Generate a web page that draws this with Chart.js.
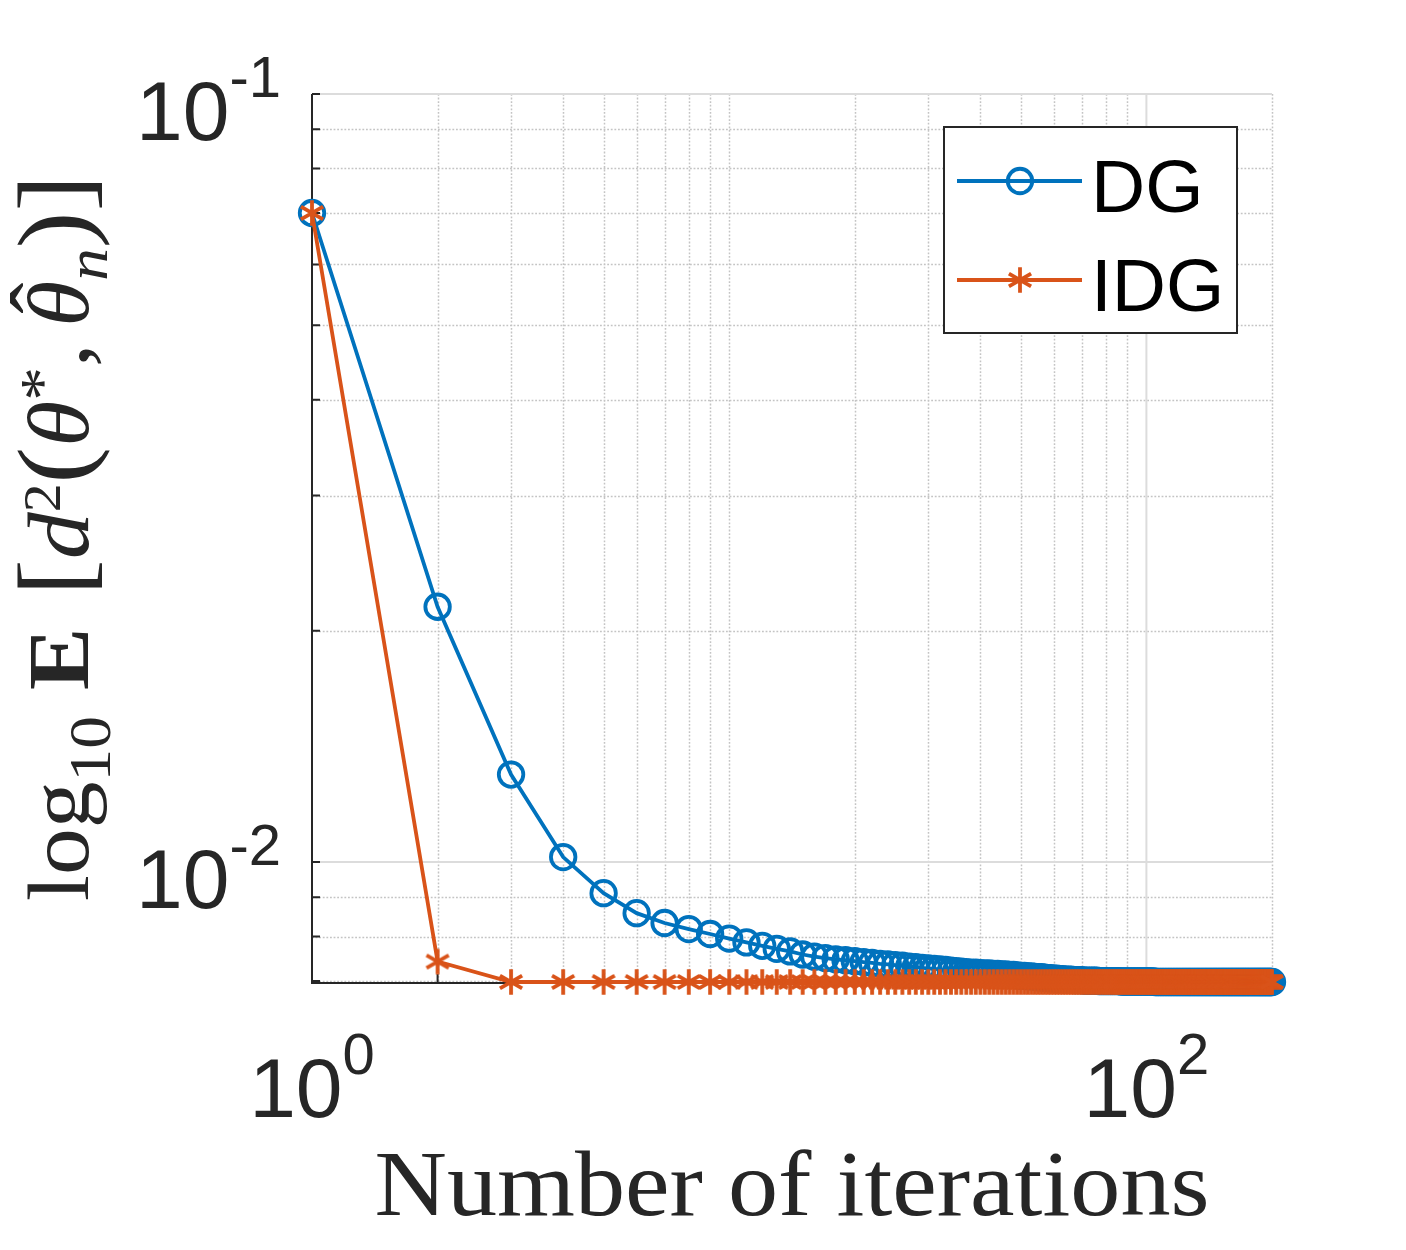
<!DOCTYPE html>
<html>
<head>
<meta charset="utf-8">
<script src="https://cdn.jsdelivr.net/npm/chart.js@4/dist/chart.umd.min.js"></script>
<style>
html,body{margin:0;padding:0;background:#ffffff;}
canvas{display:block;}
</style>
</head>
<body>
<canvas id="c" width="1406" height="1250"></canvas>
<script>
// ---------------- data ----------------
const iterations = [
  1,2,3,4,5,6,7,8,9,10,
  11,12,13,14,15,16,17,18,19,20,
  21,22,23,24,25,26,27,28,29,30,
  31,32,33,34,35,36,37,38,39,40,
  41,42,43,44,45,46,47,48,49,50,
  51,52,53,54,55,56,57,58,59,60,
  61,62,63,64,65,66,67,68,69,70,
  71,72,73,74,75,76,77,78,79,80,
  81,82,83,84,85,86,87,88,89,90,
  91,92,93,94,95,96,97,98,99,100,
  101,102,103,104,105,106,107,108,109,110,
  111,112,113,114,115,116,117,118,119,120,
  121,122,123,124,125,126,127,128,129,130,
  131,132,133,134,135,136,137,138,139,140,
  141,142,143,144,145,146,147,148,149,150,
  151,152,153,154,155,156,157,158,159,160,
  161,162,163,164,165,166,167,168,169,170,
  171,172,173,174,175,176,177,178,179,180,
  181,182,183,184,185,186,187,188,189,190,
  191,192,193,194,195,196,197,198,199,200
];

const dgValues = [
  0.0700,0.0215,0.0130,0.01015,0.00911,0.00858,0.00833,0.00818,0.00806,0.00795,
  0.00786,0.00778,0.00771,0.00765,0.00758,0.00753,0.00750,0.00747,0.00745,0.00743,
  0.00741,0.00739,0.00737,0.00736,0.00734,0.00733,0.00731,0.00730,0.00728,0.00727,
  0.00726,0.00725,0.00724,0.00722,0.00721,0.00720,0.00719,0.00718,0.00718,0.00717,
  0.00716,0.00716,0.00715,0.00715,0.00714,0.00714,0.00713,0.00713,0.00712,0.00711,
  0.00711,0.00710,0.00710,0.00709,0.00708,0.00708,0.00707,0.00706,0.00706,0.00705,
  0.00705,0.00704,0.00704,0.00703,0.00703,0.00703,0.00702,0.00702,0.00702,0.00702,
  0.00701,0.00701,0.00701,0.00701,0.00701,0.00701,0.00700,0.00700,0.00700,0.00700,
  0.00700,0.00700,0.00700,0.00700,0.00700,0.00700,0.00699,0.00699,0.00699,0.00699,
  0.00699,0.00699,0.00699,0.00699,0.00699,0.00699,0.00699,0.00699,0.00699,0.00699,
  0.00699,0.00699,0.00699,0.00699,0.00698,0.00698,0.00698,0.00698,0.00698,0.00698,
  0.00698,0.00698,0.00698,0.00698,0.00698,0.00698,0.00698,0.00698,0.00698,0.00698,
  0.00698,0.00698,0.00698,0.00698,0.00698,0.00698,0.00698,0.00698,0.00698,0.00698,
  0.00698,0.00698,0.00698,0.00698,0.00698,0.00698,0.00698,0.00698,0.00698,0.00698,
  0.00698,0.00698,0.00698,0.00698,0.00698,0.00698,0.00698,0.00698,0.00698,0.00698,
  0.00698,0.00698,0.00698,0.00698,0.00698,0.00698,0.00698,0.00698,0.00698,0.00698,
  0.00698,0.00698,0.00698,0.00698,0.00698,0.00698,0.00698,0.00698,0.00698,0.00698,
  0.00698,0.00698,0.00698,0.00698,0.00698,0.00698,0.00698,0.00698,0.00698,0.00698,
  0.00698,0.00698,0.00698,0.00698,0.00698,0.00698,0.00698,0.00698,0.00698,0.00698,
  0.00698,0.00698,0.00698,0.00698,0.00698,0.00698,0.00698,0.00698,0.00698,0.00698
];

const idgValues = [
  0.0700,0.00742,0.00698,0.00698,0.00698,0.00698,0.00698,0.00698,0.00698,0.00698,
  0.00698,0.00698,0.00698,0.00698,0.00698,0.00698,0.00698,0.00698,0.00698,0.00698,
  0.00698,0.00698,0.00698,0.00698,0.00698,0.00698,0.00698,0.00698,0.00698,0.00698,
  0.00698,0.00698,0.00698,0.00698,0.00698,0.00698,0.00698,0.00698,0.00698,0.00698,
  0.00698,0.00698,0.00698,0.00698,0.00698,0.00698,0.00698,0.00698,0.00698,0.00698,
  0.00698,0.00698,0.00698,0.00698,0.00698,0.00698,0.00698,0.00698,0.00698,0.00698,
  0.00698,0.00698,0.00698,0.00698,0.00698,0.00698,0.00698,0.00698,0.00698,0.00698,
  0.00698,0.00698,0.00698,0.00698,0.00698,0.00698,0.00698,0.00698,0.00698,0.00698,
  0.00698,0.00698,0.00698,0.00698,0.00698,0.00698,0.00698,0.00698,0.00698,0.00698,
  0.00698,0.00698,0.00698,0.00698,0.00698,0.00698,0.00698,0.00698,0.00698,0.00698,
  0.00698,0.00698,0.00698,0.00698,0.00698,0.00698,0.00698,0.00698,0.00698,0.00698,
  0.00698,0.00698,0.00698,0.00698,0.00698,0.00698,0.00698,0.00698,0.00698,0.00698,
  0.00698,0.00698,0.00698,0.00698,0.00698,0.00698,0.00698,0.00698,0.00698,0.00698,
  0.00698,0.00698,0.00698,0.00698,0.00698,0.00698,0.00698,0.00698,0.00698,0.00698,
  0.00698,0.00698,0.00698,0.00698,0.00698,0.00698,0.00698,0.00698,0.00698,0.00698,
  0.00698,0.00698,0.00698,0.00698,0.00698,0.00698,0.00698,0.00698,0.00698,0.00698,
  0.00698,0.00698,0.00698,0.00698,0.00698,0.00698,0.00698,0.00698,0.00698,0.00698,
  0.00698,0.00698,0.00698,0.00698,0.00698,0.00698,0.00698,0.00698,0.00698,0.00698,
  0.00698,0.00698,0.00698,0.00698,0.00698,0.00698,0.00698,0.00698,0.00698,0.00698,
  0.00698,0.00698,0.00698,0.00698,0.00698,0.00698,0.00698,0.00698,0.00698,0.00698
];

const seriesNames = ['DG', 'IDG'];

const xMin = 1, xMax = 200;
const yMin = 0.00698, yMax = 0.1;

const xMajorTicks = [1, 100];
const xTickBases = ['10', '10'];
const xTickExps = ['0', '2'];
const xMinorTicks = [2,3,4,5,6,7,8,9,10,20,30,40,50,60,70,80,90,200];

const yMajorTicks = [0.01, 0.1];
const yTickBases = ['10', '10'];
const yTickExps = ['-2', '-1'];
const yMinorTicks = [0.007,0.008,0.009,0.02,0.03,0.04,0.05,0.06,0.07,0.08,0.09];

const xTitle = 'Number of iterations';
// y title pieces: log_{10} E [ d^2 ( θ^* , \hat θ_n ) ]
const yTitleParts = [
  {t:'log', f:'r'}, {t:'10', f:'sub'}, {t:' ', f:'sp', w:0.28},
  {t:'E', f:'b'}, {t:' ', f:'sp', w:0.34},
  {t:'[', f:'big'}, {t:'d', f:'i'}, {t:'2', f:'sup'},
  {t:'(', f:'big'}, {t:'θ', f:'i'}, {t:'*', f:'supst'},
  {t:',', f:'r'}, {t:' ', f:'sp', w:0.18},
  {t:'θ', f:'i', hat:true}, {t:'n', f:'subi'},
  {t:')', f:'big'}, {t:']', f:'big'}
];

// ---------------- style ----------------
const DG_COLOR = '#0072BD';
const IDG_COLOR = '#D95319';
const AXIS_COLOR = '#262626';
const LINE_W = 3.8;

function makeAsterisk(color) {
  const s = 36, c = s / 2, r = 12.8;
  const cv = document.createElement('canvas');
  cv.width = s; cv.height = s;
  const g = cv.getContext('2d');
  g.strokeStyle = color; g.lineWidth = LINE_W;
  g.beginPath();
  for (let k = 0; k < 3; k++) {
    const a = Math.PI / 2 + k * Math.PI / 3;
    g.moveTo(c + r * Math.cos(a), c + r * Math.sin(a));
    g.lineTo(c - r * Math.cos(a), c - r * Math.sin(a));
  }
  g.stroke();
  return cv;
}
const asterisk = makeAsterisk(IDG_COLOR);

function supLabel(ctx, base, exp, x, baseline, align) {
  const bf = '84px "Liberation Sans", Arial, sans-serif';
  const ef = '58px "Liberation Sans", Arial, sans-serif';
  ctx.font = bf; const wb = ctx.measureText(base).width;
  ctx.font = ef; const we = ctx.measureText(exp).width;
  const total = wb + we;
  const sx = align === 'right' ? x - total : x - total / 2;
  ctx.textAlign = 'left'; ctx.textBaseline = 'alphabetic';
  ctx.font = bf; ctx.fillText(base, sx, baseline);
  ctx.font = ef; ctx.fillText(exp, sx + wb, baseline - 43);
}

const decorPlugin = {
  id: 'decor',
  beforeDatasetsDraw(chart) {
    const ctx = chart.ctx;
    const xs = chart.scales.x, ys = chart.scales.y;
    const a = chart.chartArea;
    ctx.save();
    // minor grid (dotted)
    ctx.strokeStyle = '#c4c4c4'; ctx.lineWidth = 1.5; ctx.setLineDash([1.8, 1.8]);
    ctx.beginPath();
    xMinorTicks.forEach(v => { const px = Math.round(xs.getPixelForValue(v)) + 0.5; ctx.moveTo(px, a.top); ctx.lineTo(px, a.bottom); });
    yMinorTicks.forEach(v => { const py = Math.round(ys.getPixelForValue(v)) + 0.5; ctx.moveTo(a.left, py); ctx.lineTo(a.right, py); });
    ctx.stroke();
    // major grid (solid)
    ctx.setLineDash([]);
    ctx.strokeStyle = '#dcdcdc'; ctx.lineWidth = 2;
    ctx.beginPath();
    xMajorTicks.forEach(v => { const px = xs.getPixelForValue(v); ctx.moveTo(px, a.top); ctx.lineTo(px, a.bottom); });
    yMajorTicks.forEach(v => { const py = ys.getPixelForValue(v); ctx.moveTo(a.left, py); ctx.lineTo(a.right, py); });
    ctx.stroke();
    // axes lines
    ctx.strokeStyle = AXIS_COLOR; ctx.lineWidth = 2;
    ctx.beginPath();
    ctx.moveTo(a.left, a.top); ctx.lineTo(a.left, a.bottom + 1); ctx.lineTo(a.right, a.bottom + 1);
    ctx.stroke();
    // ticks (inward)
    const tl = 8;
    ctx.beginPath();
    xMajorTicks.concat(xMinorTicks).forEach(v => { const px = xs.getPixelForValue(v); ctx.moveTo(px, a.bottom); ctx.lineTo(px, a.bottom - tl); });
    yMajorTicks.concat(yMinorTicks).forEach(v => { const py = ys.getPixelForValue(v); ctx.moveTo(a.left, py); ctx.lineTo(a.left + tl, py); });
    ctx.stroke();
    // tick labels
    ctx.fillStyle = AXIS_COLOR;
    xMajorTicks.forEach((v, i) => supLabel(ctx, xTickBases[i], xTickExps[i], xs.getPixelForValue(v), a.bottom + 135, 'center'));
    yMajorTicks.forEach((v, i) => supLabel(ctx, yTickBases[i], yTickExps[i], a.left - 31, ys.getPixelForValue(v) + 46, 'right'));
    // x title
    ctx.save();
    ctx.font = '94px "Liberation Serif", "Times New Roman", serif';
    const wx = ctx.measureText(xTitle).width;
    const cx = (a.left + a.right) / 2;
    ctx.translate(cx, a.bottom + 233);
    ctx.scale(835 / wx, 1);
    ctx.textAlign = 'center'; ctx.textBaseline = 'alphabetic';
    ctx.fillText(xTitle, 0, 0);
    ctx.restore();
    // y title
    drawYTitle(ctx, 88, (a.top + a.bottom) / 2, 726);
    ctx.restore();
  },
  afterDatasetsDraw(chart) {
    const ctx = chart.ctx;
    ctx.save();
    // legend box
    ctx.fillStyle = '#ffffff';
    ctx.fillRect(944, 127, 293, 206);
    ctx.strokeStyle = AXIS_COLOR; ctx.lineWidth = 2;
    ctx.strokeRect(944, 127, 293, 206);
    const rows = [181, 280];
    const ds = chart.data.datasets;
    [0, 1].forEach(k => {
      const d = ds.find(s => s.label === seriesNames[k]);
      const y = rows[k];
      ctx.strokeStyle = d.borderColor; ctx.lineWidth = LINE_W;
      ctx.beginPath(); ctx.moveTo(957, y); ctx.lineTo(1082, y); ctx.stroke();
      if (d.pointStyle === 'circle') {
        ctx.beginPath(); ctx.arc(1020, y, 12.25, 0, Math.PI * 2); ctx.stroke();
      } else {
        ctx.drawImage(d.pointStyle, 1020 - d.pointStyle.width / 2, y - d.pointStyle.height / 2);
      }
      ctx.fillStyle = '#000000';
      ctx.font = '75px "Liberation Sans", Arial, sans-serif';
      ctx.textAlign = 'left'; ctx.textBaseline = 'alphabetic';
      ctx.fillText(d.label, 1091, y + 31);
    });
    ctx.restore();
  }
};

function drawYTitle(ctx, baseX, centerY, targetLen) {
  const F = 86;
  const fonts = {
    r:   {font: F + 'px "Liberation Serif", serif', dy: 0},
    b:   {font: 'bold ' + F + 'px "Liberation Serif", serif', dy: 0},
    i:   {font: 'italic ' + F + 'px "Liberation Serif", serif', dy: 0},
    sub: {font: Math.round(F * 0.7) + 'px "Liberation Serif", serif', dy: 0.25 * F},
    subi:{font: 'italic ' + Math.round(F * 0.7) + 'px "Liberation Serif", serif', dy: 0.22 * F},
    sup: {font: Math.round(F * 0.62) + 'px "Liberation Serif", serif', dy: -0.32 * F},
    supst:{font: Math.round(F * 0.72) + 'px "Liberation Serif", serif', dy: -0.3 * F},
    big: {font: Math.round(F * 1.17) + 'px "Liberation Serif", serif', dy: 0}
  };
  let total = 0;
  const widths = yTitleParts.map(p => {
    if (p.f === 'sp') { return p.w * F; }
    ctx.font = fonts[p.f].font;
    return ctx.measureText(p.t).width;
  });
  widths.forEach(w => total += w);
  ctx.save();
  ctx.translate(baseX, centerY);
  ctx.rotate(-Math.PI / 2);
  ctx.scale(targetLen / total, 1);
  ctx.fillStyle = AXIS_COLOR;
  ctx.textAlign = 'left'; ctx.textBaseline = 'alphabetic';
  let x = -total / 2;
  yTitleParts.forEach((p, k) => {
    if (p.f !== 'sp') {
      ctx.font = fonts[p.f].font;
      ctx.fillText(p.t, x, fonts[p.f].dy);
      if (p.hat) {
        ctx.font = F + 'px "Liberation Serif", serif';
        const hw = ctx.measureText('ˆ').width;
        ctx.fillText('ˆ', x + widths[k] / 2 - hw / 2 + 0.06 * F, -0.2 * F);
      }
    }
    x += widths[k];
  });
  ctx.restore();
}

const ctx = document.getElementById('c').getContext('2d');
new Chart(ctx, {
  type: 'line',
  data: {
    datasets: [
      {
        label: seriesNames[0],
        data: iterations.map((n, i) => ({x: n, y: dgValues[i]})),
        borderColor: DG_COLOR,
        backgroundColor: 'rgba(0,0,0,0)',
        borderWidth: LINE_W,
        pointStyle: 'circle',
        pointRadius: 12.25,
        pointBorderWidth: LINE_W,
        pointBorderColor: DG_COLOR,
        pointBackgroundColor: 'rgba(0,0,0,0)',
        tension: 0,
        fill: false,
        clip: false,
        order: 1
      },
      {
        label: seriesNames[1],
        data: iterations.map((n, i) => ({x: n, y: idgValues[i]})),
        borderColor: IDG_COLOR,
        backgroundColor: 'rgba(0,0,0,0)',
        borderWidth: LINE_W,
        pointStyle: asterisk,
        pointRadius: 12,
        pointBorderWidth: LINE_W,
        pointBorderColor: IDG_COLOR,
        pointBackgroundColor: IDG_COLOR,
        tension: 0,
        fill: false,
        clip: false,
        order: 0
      }
    ]
  },
  options: {
    responsive: false,
    animation: false,
    devicePixelRatio: 1,
    layout: {padding: {left: 312, right: 134, top: 94, bottom: 268}},
    scales: {
      x: {type: 'logarithmic', min: xMin, max: xMax, display: false},
      y: {type: 'logarithmic', min: yMin, max: yMax, display: false}
    },
    plugins: {legend: {display: false}, tooltip: {enabled: false}}
  },
  plugins: [decorPlugin]
});
</script>
</body>
</html>
